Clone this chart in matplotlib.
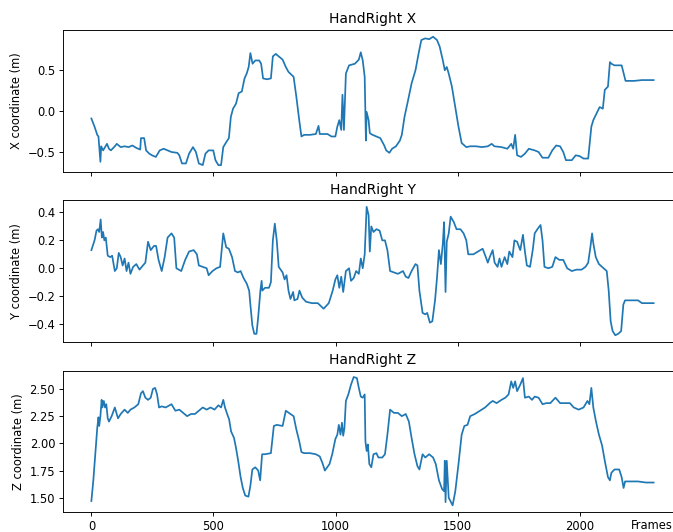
import numpy as np
import matplotlib
matplotlib.use('Agg')
import matplotlib.pyplot as plt

# values (frame, metres)
x_frames = [0, 13, 24, 29, 32, 37, 40, 48, 56, 64, 72, 80, 96, 104, 120, 136, 152, 168, 184, 200,
            203, 216, 224, 237, 248, 264, 280, 296, 312, 328, 352, 360, 371, 387, 400, 416, 428, 440,
            456, 467, 480, 499, 508, 520, 531, 540, 552, 563, 571, 580, 592, 603, 616, 627, 636, 644,
            651, 660, 671, 687, 695, 703, 719, 735, 743, 755, 767, 783, 796, 807, 828, 839, 851, 860,
            871, 895, 919, 930, 935, 967, 983, 999, 1007, 1015, 1023, 1028, 1034, 1042, 1055, 1079,
            1095, 1103, 1111, 1119, 1124, 1127, 1135, 1140, 1151, 1167, 1183, 1199, 1207, 1220, 1231,
            1247, 1263, 1271, 1282, 1295, 1311, 1327, 1340, 1351, 1367, 1383, 1399, 1415, 1426, 1439,
            1447, 1455, 1463, 1476, 1490, 1503, 1516, 1535, 1551, 1575, 1599, 1623, 1639, 1650, 1679,
            1703, 1719, 1727, 1735, 1743, 1759, 1775, 1791, 1815, 1831, 1847, 1871, 1887, 1903, 1919,
            1932, 1943, 1967, 1983, 1999, 2015, 2034, 2047, 2055, 2071, 2081, 2094, 2102, 2115, 2123,
            2129, 2142, 2171, 2187, 2222, 2254, 2302]
x_values = [-0.09, -0.19, -0.29, -0.31, -0.42, -0.62, -0.43, -0.48, -0.44, -0.40, -0.46, -0.48, -0.43,
            -0.40, -0.44, -0.43, -0.44, -0.42, -0.45, -0.47, -0.33, -0.33, -0.48, -0.52, -0.54, -0.56,
            -0.48, -0.46, -0.48, -0.50, -0.51, -0.54, -0.64, -0.64, -0.52, -0.44, -0.50, -0.64, -0.66,
            -0.52, -0.48, -0.48, -0.60, -0.66, -0.66, -0.44, -0.38, -0.33, -0.07, 0.03, 0.09, 0.22,
            0.24, 0.40, 0.46, 0.54, 0.71, 0.58, 0.62, 0.62, 0.58, 0.40, 0.39, 0.40, 0.67, 0.70, 0.67,
            0.63, 0.54, 0.48, 0.42, 0.18, -0.11, -0.31, -0.29, -0.29, -0.28, -0.18, -0.28, -0.28,
            -0.31, -0.31, -0.19, -0.11, -0.23, 0.20, -0.23, 0.46, 0.56, 0.58, 0.63, 0.72, 0.62, 0.42,
            -0.36, -0.01, -0.11, -0.27, -0.29, -0.31, -0.33, -0.42, -0.48, -0.51, -0.46, -0.43, -0.36,
            -0.29, -0.07, 0.11, 0.34, 0.50, 0.71, 0.87, 0.89, 0.88, 0.91, 0.87, 0.79, 0.62, 0.50, 0.54,
            0.46, 0.30, 0.05, -0.19, -0.39, -0.44, -0.43, -0.43, -0.44, -0.43, -0.40, -0.43, -0.44,
            -0.46, -0.40, -0.46, -0.29, -0.54, -0.56, -0.52, -0.46, -0.48, -0.50, -0.57, -0.57, -0.48,
            -0.42, -0.43, -0.50, -0.60, -0.60, -0.54, -0.55, -0.58, -0.58, -0.19, -0.11, -0.01, 0.05,
            0.03, 0.26, 0.30, 0.60, 0.58, 0.56, 0.56, 0.37, 0.37, 0.38, 0.38]

y_frames = [0, 13, 21, 27, 32, 38, 43, 48, 53, 59, 67, 77, 85, 96, 104, 112, 120, 128, 136, 144, 152,
            160, 171, 184, 197, 211, 221, 232, 243, 256, 265, 275, 288, 300, 312, 328, 339, 348, 368,
            384, 400, 419, 432, 440, 456, 472, 480, 496, 512, 527, 540, 552, 563, 576, 588, 600, 611,
            623, 636, 646, 651, 659, 667, 676, 683, 692, 697, 700, 711, 727, 735, 743, 751, 759, 767,
            783, 791, 799, 807, 815, 826, 831, 844, 852, 863, 879, 903, 927, 951, 972, 988, 999, 1007,
            1015, 1023, 1031, 1042, 1055, 1063, 1074, 1084, 1095, 1103, 1111, 1119, 1127, 1135, 1140,
            1146, 1155, 1167, 1180, 1191, 1202, 1212, 1223, 1239, 1255, 1276, 1287, 1298, 1311, 1327,
            1335, 1343, 1356, 1367, 1375, 1386, 1396, 1407, 1415, 1423, 1431, 1439, 1444, 1450, 1455,
            1463, 1471, 1484, 1495, 1511, 1524, 1535, 1543, 1564, 1583, 1602, 1615, 1623, 1631, 1643,
            1651, 1663, 1671, 1679, 1692, 1703, 1711, 1724, 1732, 1743, 1756, 1767, 1775, 1783, 1796,
            1807, 1815, 1826, 1839, 1847, 1855, 1871, 1887, 1900, 1916, 1932, 1948, 1967, 1986, 2007,
            2023, 2034, 2043, 2050, 2055, 2065, 2078, 2097, 2110, 2118, 2126, 2134, 2145, 2157, 2169,
            2178, 2185, 2206, 2238, 2254, 2302]
y_values = [0.13, 0.20, 0.27, 0.28, 0.26, 0.35, 0.22, 0.26, 0.20, 0.22, 0.09, 0.08, 0.09, -0.02, 0.00,
            0.11, 0.08, 0.02, 0.07, -0.02, 0.04, -0.04, 0.01, 0.03, -0.01, 0.02, 0.04, 0.19, 0.13, 0.16,
            0.16, 0.06, -0.02, 0.08, 0.22, 0.25, 0.22, 0.00, -0.02, 0.06, 0.12, 0.13, 0.10, 0.02, 0.01,
            0.00, -0.05, -0.02, 0.00, 0.01, 0.25, 0.15, 0.14, 0.08, -0.02, -0.03, -0.02, -0.07, -0.11,
            -0.16, -0.26, -0.41, -0.47, -0.47, -0.35, -0.16, -0.09, -0.16, -0.14, -0.14, -0.10, 0.20,
            0.32, 0.20, 0.01, -0.03, -0.08, -0.05, -0.16, -0.22, -0.17, -0.23, -0.22, -0.16, -0.21,
            -0.24, -0.25, -0.25, -0.29, -0.25, -0.16, -0.08, -0.05, -0.14, -0.06, -0.17, -0.02, 0.00,
            -0.09, -0.07, -0.02, -0.04, 0.07, 0.00, 0.10, 0.44, 0.38, 0.12, 0.30, 0.26, 0.28, 0.27,
            0.20, 0.20, 0.13, -0.02, -0.03, -0.04, -0.02, -0.06, -0.07, -0.02, 0.03, 0.02, -0.16, -0.32,
            -0.33, -0.32, -0.39, -0.38, -0.23, -0.07, 0.13, 0.03, 0.18, 0.33, -0.17, 0.19, 0.25, 0.37,
            0.33, 0.28, 0.28, 0.25, 0.20, 0.10, 0.10, 0.12, 0.14, 0.08, 0.04, 0.08, 0.13, 0.04, 0.01,
            0.07, 0.01, 0.08, 0.03, 0.12, 0.08, 0.20, 0.19, 0.13, 0.24, 0.12, 0.02, 0.01, 0.13, 0.25,
            0.28, 0.31, 0.20, 0.01, 0.00, 0.01, 0.08, 0.06, 0.06, 0.00, -0.02, -0.01, -0.01, 0.01, 0.04,
            0.15, 0.25, 0.18, 0.08, 0.03, 0.00, -0.02, -0.16, -0.38, -0.45, -0.48, -0.47, -0.45, -0.26,
            -0.23, -0.23, -0.23, -0.25, -0.25]

z_frames = [0, 8, 16, 24, 29, 32, 37, 42, 45, 51, 56, 61, 67, 72, 83, 96, 109, 120, 136, 149, 160, 176,
            192, 203, 211, 221, 232, 243, 252, 261, 269, 277, 288, 304, 328, 344, 360, 376, 392, 408,
            424, 440, 456, 472, 488, 504, 520, 531, 540, 547, 556, 564, 572, 584, 592, 601, 611, 620,
            630, 643, 651, 659, 671, 683, 691, 699, 711, 735, 747, 759, 783, 796, 815, 828, 839, 851,
            860, 871, 895, 919, 935, 946, 956, 975, 986, 999, 1007, 1013, 1020, 1026, 1031, 1036, 1042,
            1052, 1063, 1074, 1087, 1095, 1103, 1111, 1119, 1122, 1127, 1132, 1138, 1146, 1155, 1167,
            1175, 1191, 1202, 1212, 1223, 1239, 1255, 1271, 1287, 1300, 1311, 1323, 1335, 1343, 1356,
            1367, 1383, 1399, 1410, 1423, 1436, 1444, 1447, 1450, 1455, 1463, 1479, 1490, 1503, 1516,
            1527, 1540, 1551, 1570, 1591, 1612, 1631, 1643, 1659, 1679, 1695, 1708, 1719, 1727, 1735,
            1743, 1756, 1767, 1775, 1791, 1804, 1815, 1831, 1847, 1863, 1879, 1900, 1919, 1943, 1959,
            1975, 1995, 2015, 2031, 2039, 2047, 2055, 2066, 2078, 2091, 2102, 2115, 2123, 2129, 2142,
            2161, 2171, 2179, 2185, 2206, 2238, 2270, 2302]
z_values = [1.47, 1.66, 1.90, 2.14, 2.24, 2.16, 2.25, 2.40, 2.33, 2.39, 2.33, 2.36, 2.23, 2.20, 2.25,
            2.33, 2.23, 2.27, 2.31, 2.28, 2.31, 2.33, 2.36, 2.46, 2.48, 2.42, 2.40, 2.42, 2.50, 2.51,
            2.45, 2.33, 2.34, 2.33, 2.36, 2.30, 2.31, 2.28, 2.25, 2.27, 2.27, 2.30, 2.33, 2.31, 2.33,
            2.31, 2.35, 2.33, 2.40, 2.33, 2.27, 2.22, 2.11, 2.05, 1.96, 1.84, 1.69, 1.59, 1.52, 1.51,
            1.61, 1.76, 1.78, 1.75, 1.66, 1.90, 1.90, 1.91, 2.16, 2.17, 2.16, 2.30, 2.27, 2.25, 2.13,
            2.02, 1.92, 1.91, 1.91, 1.90, 1.88, 1.82, 1.75, 1.81, 1.90, 2.04, 2.08, 2.17, 2.08, 2.19,
            2.07, 2.14, 2.39, 2.45, 2.54, 2.61, 2.60, 2.51, 2.43, 2.42, 2.45, 2.02, 1.93, 1.99, 1.81,
            1.78, 1.90, 1.91, 1.87, 1.87, 1.90, 2.08, 2.31, 2.28, 2.28, 2.25, 2.27, 2.20, 2.05, 1.90,
            1.79, 1.76, 1.90, 1.87, 1.90, 1.87, 1.81, 1.66, 1.58, 1.56, 1.84, 1.46, 1.84, 1.50, 1.43,
            1.56, 1.81, 2.08, 2.16, 2.17, 2.25, 2.27, 2.30, 2.33, 2.37, 2.39, 2.37, 2.40, 2.42, 2.45,
            2.57, 2.51, 2.57, 2.48, 2.54, 2.60, 2.42, 2.43, 2.40, 2.43, 2.42, 2.36, 2.37, 2.37, 2.42,
            2.37, 2.37, 2.37, 2.33, 2.31, 2.33, 2.39, 2.36, 2.51, 2.33, 2.20, 2.08, 1.98, 1.84, 1.69,
            1.66, 1.73, 1.76, 1.76, 1.69, 1.59, 1.65, 1.65, 1.65, 1.64, 1.64]

titles = ['HandRight X', 'HandRight Y', 'HandRight Z']
ylabels = ['X coordinate (m)', 'Y coordinate (m)', 'Z coordinate (m)']
series = [(x_frames, x_values), (y_frames, y_values), (z_frames, z_values)]

DPI = 83
fig, axes = plt.subplots(3, 1, sharex=True, figsize=(673 / DPI, 532 / DPI), dpi=DPI)
fig.subplots_adjust(left=0.094, right=1.013, top=0.943, bottom=0.038, hspace=0.205)

for ax, (fr, vals), title, ylab in zip(axes, series, titles, ylabels):
    ax.plot(fr, vals, color='#1f77b4', linewidth=1.5)
    ax.set_title(title)
    ax.set_ylabel(ylab)

axes[0].set_yticks([-0.5, 0.0, 0.5])
axes[1].set_yticks([-0.4, -0.2, 0.0, 0.2, 0.4])
axes[2].set_yticks([1.5, 1.75, 2.0, 2.25, 2.5])
axes[2].set_xticks([0, 500, 1000, 1500, 2000])

# axes run a little past the right edge; keep the label just inside the picture
axes[2].set_xlabel('Frames', loc='right')
axes[2].xaxis.set_label_coords(0.985, -0.05)

fig.savefig('out.png', dpi=DPI)
